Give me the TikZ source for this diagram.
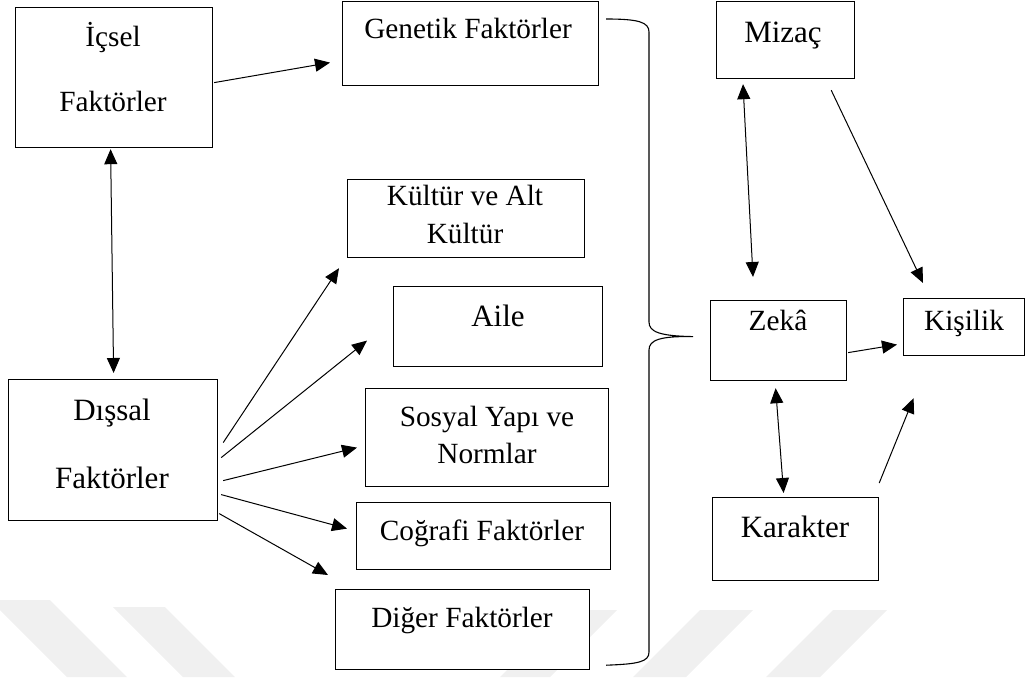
\documentclass[tikz,border=0pt]{standalone}
\usepackage{fontspec}
\setmainfont{Liberation Serif}
\usetikzlibrary{arrows.meta}
\definecolor{wm}{RGB}{240,240,240}
\tikzset{
  box/.style={draw=black, line width=1.2pt, rectangle, inner sep=0pt, anchor=north west, fill=white},
  lbl/.style={anchor=base, inner sep=0pt, font=\fontsize{29.3}{35}\selectfont},
  lblb/.style={anchor=base, inner sep=0pt, font=\fontsize{31}{37}\selectfont},
  tip/.style={Triangle[length=15pt,width=13pt]},
  arr/.style={line width=1pt, -{Triangle[length=15pt,width=13pt]}},
  darr/.style={line width=1pt, {Triangle[length=15pt,width=13pt]}-{Triangle[length=15pt,width=13pt]}},
  brace/.style={line width=1.1pt},
  band/.style={fill=wm, draw=none},
}
\begin{document}
\begin{tikzpicture}[x=1pt, y=-1pt]
\useasboundingbox (0,0) rectangle (1027,677);
% watermark bands
\fill[band] (-10,600) -- (50,600) -- (127,677) -- (67,677) -- cycle;
\fill[band] (113,607) -- (165,607) -- (235,677) -- (183,677) -- cycle;
\fill[band] (567,610) -- (617,610) -- (550,677) -- (500,677) -- cycle;
\fill[band] (700,610) -- (753,610) -- (686,677) -- (633,677) -- cycle;
\fill[band] (833,610) -- (887,610) -- (820,677) -- (766,677) -- cycle;

% boxes
\node[box, minimum width=197pt, minimum height=140pt] (icsel) at (15,7) {};
\node[box, minimum width=256pt, minimum height=84pt] (genetik) at (342,1) {};
\node[box, minimum width=237pt, minimum height=78pt] (kultur) at (347,179) {};
\node[box, minimum width=209pt, minimum height=80pt] (aile) at (393,286) {};
\node[box, minimum width=243pt, minimum height=98pt] (sosyal) at (365,388) {};
\node[box, minimum width=254pt, minimum height=67pt] (cografi) at (356,502) {};
\node[box, minimum width=254pt, minimum height=80pt] (diger) at (335,589) {};
\node[box, minimum width=209pt, minimum height=141pt] (dissal) at (8,379) {};
\node[box, minimum width=138pt, minimum height=77pt] (mizac) at (716,1) {};
\node[box, minimum width=136pt, minimum height=80pt] (zeka) at (710,300) {};
\node[box, minimum width=121pt, minimum height=57pt] (kisilik) at (903,298) {};
\node[box, minimum width=166pt, minimum height=83pt] (karakter) at (712,497) {};

% labels
\node[lbl] (t-icsel1) at (113,47) {İçsel};
\node[lbl] (t-icsel2) at (113,111) {Faktörler};
\node[lbl] (t-genetik) at (468,39) {Genetik Faktörler};
\node[lbl] (t-kultur1) at (465,205) {Kültür ve Alt};
\node[lbl] (t-kultur2) at (465,243) {Kültür};
\node[lblb] (t-aile) at (498,326) {Aile};
\node[lbl] (t-sosyal1) at (487,426) {Sosyal Yapı ve};
\node[lbl] (t-sosyal2) at (487,463) {Normlar};
\node[lbl] (t-cografi) at (482,540) {Coğrafi Faktörler};
\node[lbl] (t-diger) at (462,627) {Diğer Faktörler};
\node[lblb] (t-dissal1) at (112,420) {Dışsal};
\node[lblb] (t-dissal2) at (112,488) {Faktörler};
\node[lblb] (t-mizac) at (783,42) {Mizaç};
\node[lbl] (t-zeka) at (778,330) {Zekâ};
\node[lbl] (t-kisilik) at (964,330) {Kişilik};
\node[lblb] (t-karakter) at (795,537) {Karakter};

% connectors
\draw[arr] ([shift={(1,5)}]icsel.east) -- ([shift={(-12,19)}]genetik.west);
\draw[darr] ([shift={(-3.5,1)}]icsel.south) -- ([shift={(0.5,-6)}]dissal.north);
\draw[arr] ([shift={(5,-7.5)}]dissal.east) -- ([shift={(-8,10)}]kultur.south west);
\draw[arr] ([shift={(3,7.5)}]dissal.east) -- ([shift={(-26,14)}]aile.west);
\draw[arr] ([shift={(5,30.5)}]dissal.east) -- ([shift={(-8,10)}]sosyal.west);
\draw[arr] ([shift={(3,44.5)}]dissal.east) -- ([shift={(-9,-7.5)}]cografi.west);
\draw[arr] ([shift={(1,63.5)}]dissal.east) -- ([shift={(-7,-14)}]diger.north west);
\draw[darr] ([shift={(27,5)}]mizac.south west) -- ([shift={(43,-23)}]zeka.north west);
\draw[arr] ([shift={(-24,11)}]mizac.south east) -- ([shift={(20,-15)}]kisilik.north west);
\draw[arr] ([shift={(1,12)}]zeka.east) -- ([shift={(-6,17.5)}]kisilik.west);
\draw[darr] ([shift={(-3,7)}]zeka.south) -- ([shift={(-12,-4)}]karakter.north);
\draw[arr] ([shift={(0,-14)}]karakter.north east) -- ([shift={(-50.5,42)}]kisilik.south);

% brace
\draw[brace] ([shift={(7,18)}]genetik.north east)
  .. controls (638,19) and (649,22) .. (649,32)
  -- (649,322)
  .. controls (649,332) and (660,336) .. ([shift={(-17,-4)}]zeka.west)
  .. controls (660,336) and (649,340) .. (649,350)
  -- (649,652)
  .. controls (649,662) and (638,664) .. ([shift={(16,-5)}]diger.south east);
\end{tikzpicture}
\end{document}
